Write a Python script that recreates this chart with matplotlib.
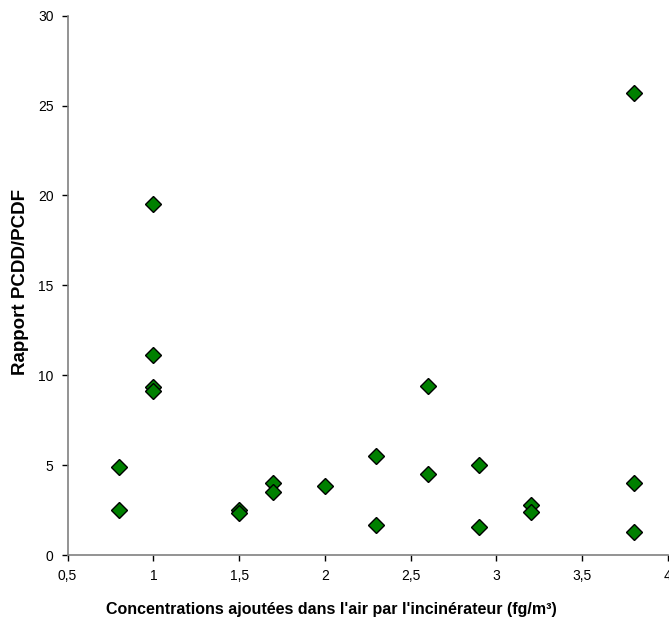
import matplotlib
matplotlib.use("Agg")
import matplotlib.pyplot as plt
from matplotlib.ticker import FuncFormatter, MultipleLocator

x_values = [0.8, 0.8, 1.0, 1.0, 1.0, 1.0, 1.5, 1.5, 1.7, 1.7, 2.0,
            2.3, 2.3, 2.6, 2.6, 2.9, 2.9, 3.2, 3.2, 3.8, 3.8, 3.8]
y_values = [4.9, 2.5, 19.5, 11.15, 9.35, 9.15, 2.52, 2.35, 4.0, 3.5, 3.85,
            5.5, 1.67, 9.4, 4.52, 5.02, 1.57, 2.76, 2.38, 25.7, 4.0, 1.27]

x_label = "Concentrations ajoutées dans l'air par l'incinérateur (fg/m³)"
y_label = "Rapport PCDD/PCDF"

plt.rcParams['font.family'] = ['Liberation Sans', 'DejaVu Sans']

fig = plt.figure(figsize=(6.69, 6.22), dpi=100)
ax = fig.add_axes([0.101, 0.1077, 0.8975, 0.8671])

ax.plot(x_values, y_values, linestyle='none', marker='D', markersize=8,
        markerfacecolor='#008000', markeredgecolor='black', markeredgewidth=1.0)

ax.set_xlim(0.5, 4)
ax.set_ylim(0, 30)
ax.xaxis.set_major_locator(MultipleLocator(0.5))
ax.yaxis.set_major_locator(MultipleLocator(5))

def comma_fmt(v, pos):
    s = ('%g' % v)
    return s.replace('.', ',')

ax.xaxis.set_major_formatter(FuncFormatter(comma_fmt))
ax.yaxis.set_major_formatter(FuncFormatter(comma_fmt))

for side in ['top', 'right']:
    ax.spines[side].set_visible(False)
for side in ['left', 'bottom']:
    ax.spines[side].set_color('#808080')
    ax.spines[side].set_linewidth(1.2)

ax.tick_params(axis='both', direction='out', length=4, width=1, color='black',
               labelsize=10, pad=6)

ax.set_xlabel(x_label, fontsize=11.5, fontweight='bold')
ax.set_ylabel(y_label, fontsize=13.5, fontweight='bold')
ax.xaxis.set_label_coords(0.44, -0.087)
ax.yaxis.set_label_coords(-0.064, 0.507)

fig.savefig('out.png', dpi=100)
